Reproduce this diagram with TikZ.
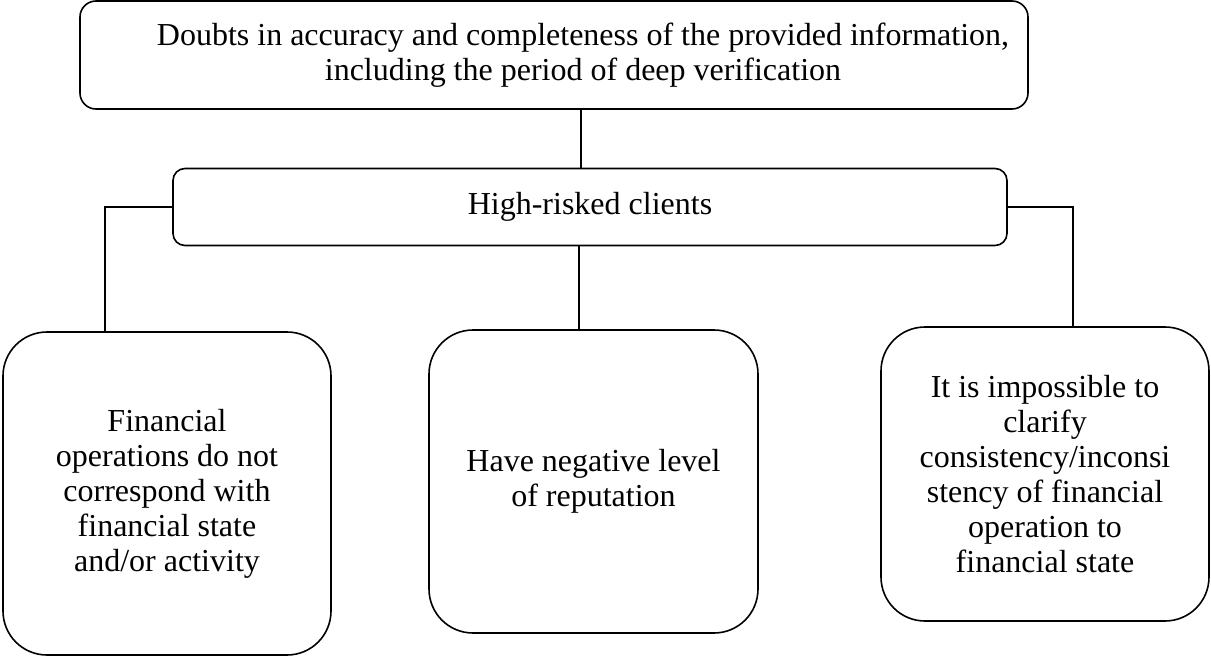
\documentclass[tikz,border=0pt]{standalone}
\usepackage{fontspec}
\setmainfont{Liberation Serif}
\tikzset{
  box/.style={draw, line width=0.8pt, align=center, inner sep=0pt,
    font=\fontsize{16}{17.5}\selectfont},
  boxtext/.style={align=center, inner sep=0pt, font=\fontsize{16}{17.5}\selectfont},
  bigbox/.style={box, rounded corners=22pt},
  link/.style={line width=0.8pt}
}

\begin{document}
\begin{tikzpicture}[x=0.5pt, y=-0.5pt]
        \useasboundingbox (0,0) rectangle (1211,659);
        \node [box, rounded corners=8pt, minimum width=474pt, minimum height=54pt,
        label={[boxtext, xshift=14.5pt]center:{Doubts in accuracy and completeness of the provided information,\\
        including the period of deep verification}}]
        (doubts) at (554,55) {};
        \node [box, rounded corners=6pt, minimum width=417pt, minimum height=38.5pt]
        (risk) at (590,207) {High-risked clients};
        \node [bigbox, minimum width=164pt, minimum height=161.5pt]
        (ops) at (167,493.5) {Financial\\ operations do not\\ correspond with\\ financial state\\ and/or activity};
        \node [bigbox, minimum width=164.5pt, minimum height=151.5pt]
        (rep) at (593.5,481.5) {Have negative level\\ of reputation};
        \node [bigbox, minimum width=164pt, minimum height=147pt]
        (clar) at (1045,474) {It is impossible to\\ clarify\\ consistency/inconsi\\ stency of financial\\ operation to\\ financial state};
        \draw [link] ([xshift=13.5pt]doubts.south) -- ([xshift=13.5pt]doubts.south |- risk.north);
        \draw [link] (risk.west) -| ([xshift=-31pt]ops.north);
        \draw [link] ([xshift=-5.5pt]risk.south) -- ([xshift=-5.5pt]risk.south |- rep.north);
        \draw [link] (risk.east) -| ([xshift=14pt]clar.north);
    \end{tikzpicture}
\end{document}
